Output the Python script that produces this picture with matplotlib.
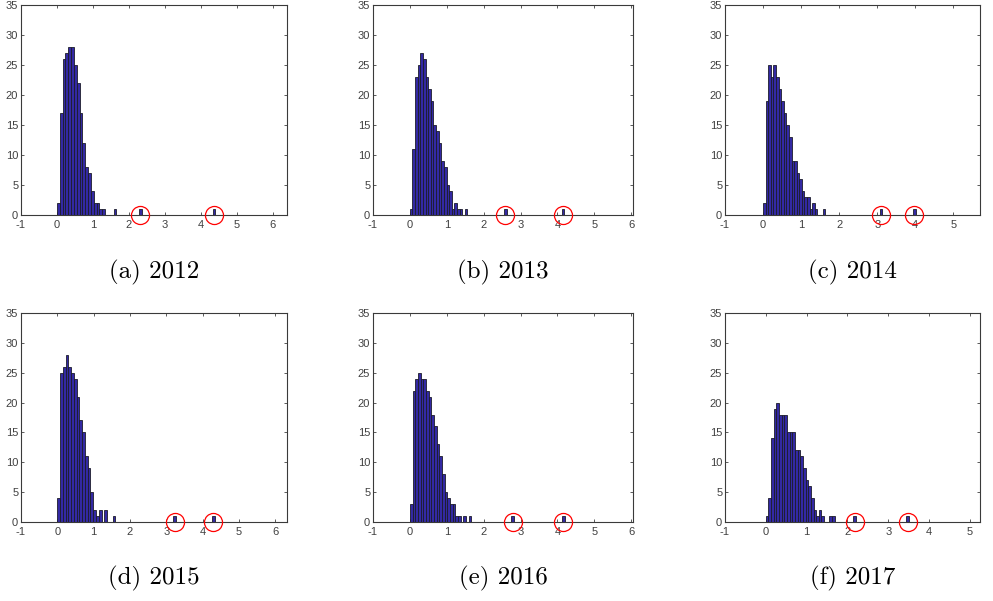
import numpy as np
from matplotlib import pyplot as plt

# bin widths (data units) and histogram counts per year, bins start at 0
years = ['2012', '2013', '2014', '2015', '2016', '2017']
letters = ['a', 'b', 'c', 'd', 'e', 'f']
widths = [0.0786, 0.071, 0.068, 0.076, 0.0723, 0.065]

counts_2012 = [2, 17, 26, 27, 28, 28, 25, 22, 17, 12, 8, 7, 4, 2, 2, 1, 1,
               0, 0, 0, 1, 0, 0, 0, 0, 0, 0, 0, 0, 1,
               0, 0, 0, 0, 0, 0, 0, 0, 0, 0, 0, 0, 0, 0, 0, 0, 0, 0, 0, 0,
               0, 0, 0, 0, 0, 1]
counts_2013 = [1, 11, 23, 25, 27, 26, 23, 21, 19, 15, 14, 12, 9, 8, 5, 4, 1, 2, 1, 1, 0, 1,
               0, 0, 0, 0, 0, 0, 0, 0, 0, 0, 0, 0, 0, 0, 1,
               0, 0, 0, 0, 0, 0, 0, 0, 0, 0, 0, 0, 0, 0, 0, 0, 0, 0, 0, 0, 0, 1]
counts_2014 = [2, 19, 25, 23, 25, 23, 21, 19, 17, 15, 13, 9, 9, 7, 6, 4, 3, 3, 1, 2, 1, 0, 0, 1,
               0, 0, 0, 0, 0, 0, 0, 0, 0, 0, 0, 0, 0, 0, 0, 0, 0, 0, 0, 0, 0, 1,
               0, 0, 0, 0, 0, 0, 0, 0, 0, 0, 0, 0, 1]
counts_2015 = [4, 25, 26, 28, 26, 25, 24, 21, 17, 15, 11, 9, 5, 2, 1, 2, 0, 2, 0, 0, 1,
               0, 0, 0, 0, 0, 0, 0, 0, 0, 0, 0, 0, 0, 0, 0, 0, 0, 0, 0, 0, 0, 1,
               0, 0, 0, 0, 0, 0, 0, 0, 0, 0, 0, 0, 0, 1]
counts_2016 = [3, 22, 24, 25, 24, 24, 22, 21, 18, 16, 13, 11, 8, 5, 4, 3, 3, 1, 1, 0, 1, 0, 1,
               0, 0, 0, 0, 0, 0, 0, 0, 0, 0, 0, 0, 0, 0, 0, 1,
               0, 0, 0, 0, 0, 0, 0, 0, 0, 0, 0, 0, 0, 0, 0, 0, 0, 0, 1]
counts_2017 = [1, 4, 14, 19, 20, 18, 18, 18, 15, 15, 15, 12, 12, 11, 9, 7, 6, 4, 2, 1, 2, 1,
               0, 0, 1, 1, 0, 0, 0, 0, 0, 0, 0, 1,
               0, 0, 0, 0, 0, 0, 0, 0, 0, 0, 0, 0, 0, 0, 0, 0, 0, 0, 0, 1]
all_counts = [counts_2012, counts_2013, counts_2014, counts_2015, counts_2016, counts_2017]

x_right = [6.39, 6.05, 5.7, 6.32, 6.05, 5.25]

# axes rectangles in pixels (left, top, right, bottom) on a 993x601 canvas
W, H = 993, 601
boxes = [(21, 5, 287, 215), (373, 5, 633, 215), (725, 5, 980, 215),
         (21, 313, 287, 522), (373, 313, 633, 522), (725, 313, 980, 522)]

plt.rcParams['font.family'] = ['Liberation Sans', 'DejaVu Sans']
plt.rcParams['axes.unicode_minus'] = False
fig = plt.figure(figsize=(W / 100, H / 100), dpi=100)

for i in range(6):
    l, t, r, b = boxes[i]
    ax = fig.add_axes([l / W, (H - b) / H, (r - l) / W, (b - t) / H])

    counts = np.array(all_counts[i])
    w = widths[i]
    centers = (np.arange(len(counts)) + 0.5) * w
    ax.bar(centers, counts, width=w, color='#3329a3', edgecolor='#1c1c2a',
           linewidth=0.6, zorder=2)

    # circle the two far outliers (last two non-empty bins)
    nz = np.nonzero(counts)[0][-2:]
    ax.plot(centers[nz], np.zeros(len(nz)), 'o', ms=13, mfc='none', mec='red',
            mew=0.9, clip_on=False, zorder=5)

    ax.set_xlim(-1, x_right[i])
    ax.set_ylim(0, 35)
    ax.set_xticks(np.arange(-1, int(np.floor(x_right[i])) + 1))
    ax.set_yticks(np.arange(0, 36, 5))
    ax.tick_params(direction='in', length=2.5, width=0.6, top=True, right=True,
                   labelsize=8, colors='#404040')
    ax.tick_params(axis='x', pad=3.5)
    ax.tick_params(axis='y', pad=2)
    for s in ax.spines.values():
        s.set_color('#3a3a3a')
        s.set_linewidth(0.8)

    ax.text(0.5, -0.272, f'({letters[i]}) {years[i]}', transform=ax.transAxes,
            ha='center', va='center', fontsize=18, family='cmr10')

fig.savefig('out.png', dpi=100)
